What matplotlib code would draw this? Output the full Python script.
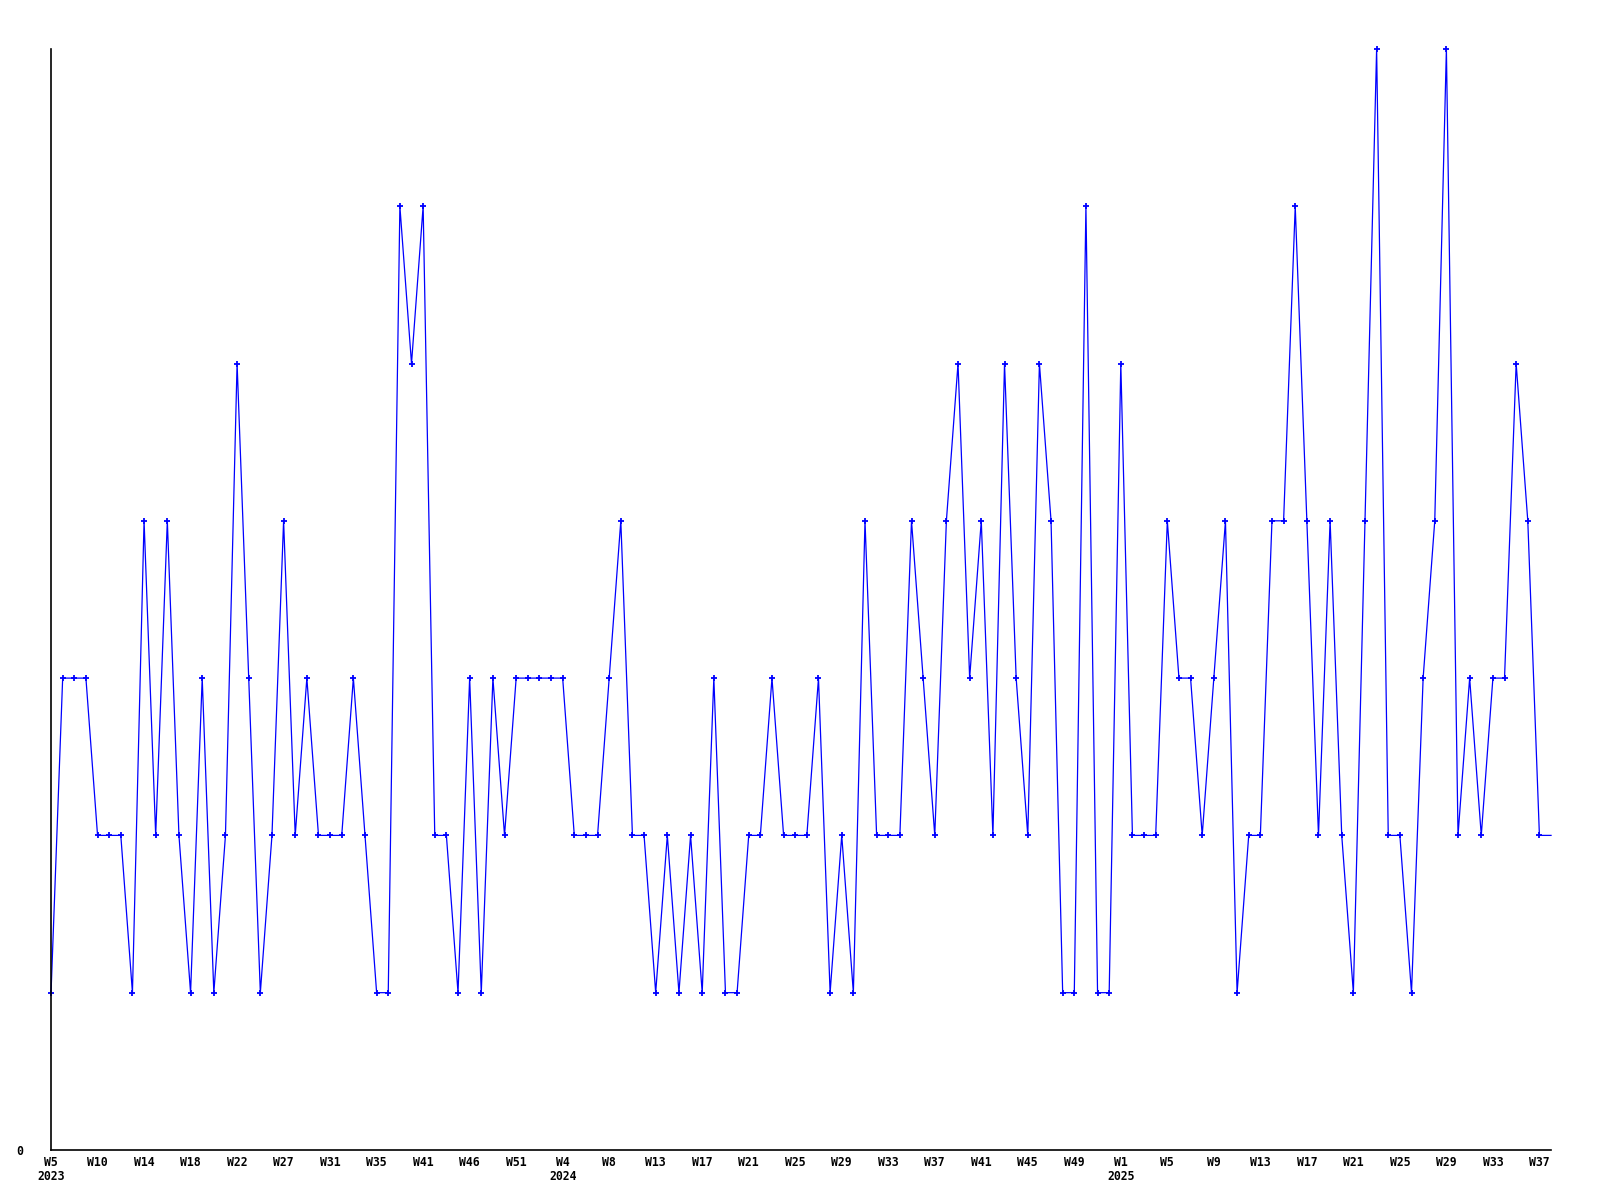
import matplotlib
matplotlib.use("Agg")
import matplotlib.pyplot as plt
import numpy as np

# one value per sample; the last one has no marker (line runs to the edge)
values = [1, 3, 3, 3, 2, 2, 2, 1, 4, 2,
          4, 2, 1, 3, 1, 2, 5, 3, 1, 2,
          4, 2, 3, 2, 2, 2, 3, 2, 1, 1,
          6, 5, 6, 2, 2, 1, 3, 1, 3, 2,
          3, 3, 3, 3, 3, 2, 2, 2, 3, 4,
          2, 2, 1, 2, 1, 2, 1, 3, 1, 1,
          2, 2, 3, 2, 2, 2, 3, 1, 2, 1,
          4, 2, 2, 2, 4, 3, 2, 4, 5, 3,
          4, 2, 5, 3, 2, 5, 4, 1, 1, 6,
          1, 1, 5, 2, 2, 2, 4, 3, 3, 2,
          3, 4, 1, 2, 2, 4, 4, 6, 4, 2,
          4, 2, 1, 4, 7, 2, 2, 1, 3, 4,
          7, 2, 3, 2, 3, 3, 5, 4, 2, 2]

week_labels = ["W5", "W10", "W14", "W18", "W22", "W27", "W31", "W35", "W41", "W46", "W51",
               "W4", "W8", "W13", "W17", "W21", "W25", "W29", "W33", "W37", "W41", "W45", "W49",
               "W1", "W5", "W9", "W13", "W17", "W21", "W25", "W29", "W33", "W37"]
year_labels = {"0": "2023", "11": "2024", "23": "2025"}
label_step = 4

x = np.arange(len(values))

fig = plt.figure(figsize=(16, 12), dpi=100)
ax = fig.add_axes([0.0319, 0.0417, 0.9375, 0.9175])

ax.plot(x, values, color="#0000ff", linewidth=0.9,
        marker="+", markersize=4.5, markeredgewidth=1.3,
        markevery=list(range(len(values) - 1)), clip_on=False)

ax.set_xlim(0, len(values) - 1)
ax.set_ylim(0, 7)

ticks = x[::label_step][:len(week_labels)]
labels = []
for i, w in enumerate(week_labels):
    yr = year_labels.get(str(i))
    labels.append(w + "\n" + yr if yr else w)
ax.set_xticks(ticks)
ax.set_xticklabels(labels, fontfamily="DejaVu Sans Mono", fontweight="bold",
                   fontsize=8.3, linespacing=1.15, va="top")
ax.set_yticks([0])
ax.set_yticklabels(["0"], fontfamily="DejaVu Sans Mono", fontweight="bold", fontsize=8.3)
ax.tick_params(axis="both", length=0)
ax.tick_params(axis="x", pad=4)
ax.tick_params(axis="y", pad=20)

for s in ["top", "right"]:
    ax.spines[s].set_visible(False)
for s in ["left", "bottom"]:
    ax.spines[s].set_linewidth(1.2)
    ax.spines[s].set_color("black")

fig.savefig("out.png", dpi=100)
